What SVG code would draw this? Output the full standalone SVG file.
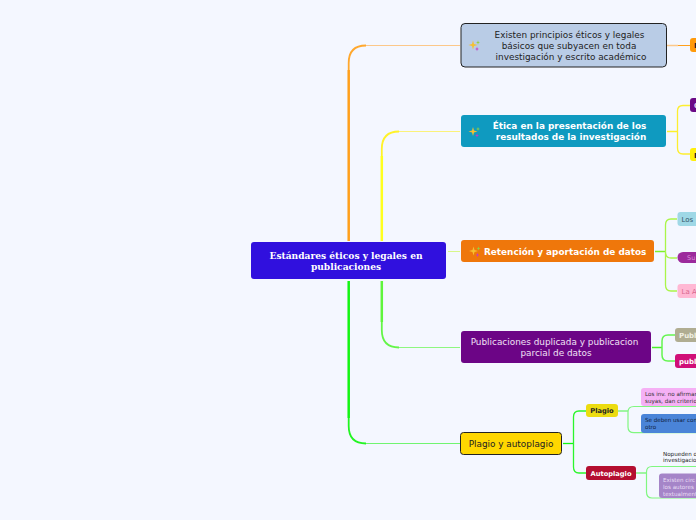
<svg xmlns="http://www.w3.org/2000/svg" width="696" height="520" viewBox="0 0 696 520">
<style>
.t{font-family:"DejaVu Sans",Verdana,sans-serif;font-size:8.9px;text-anchor:middle}
.b{font-weight:bold}
.l{text-anchor:start}
.r{font-family:"DejaVu Serif",Georgia,serif;font-weight:bold;font-size:9.1px;text-anchor:middle;fill:#fff}
.c{fill:none;stroke-linecap:butt}
.s0{font-size:6.7px}
.s1{font-size:7px}
.s2{font-size:6.5px}
.s3{font-size:5.6px}
</style>
<defs>
<g id="spark">
<path d="M0-4.500 1-1 4.500 0 1 1 0 4.500-1 1-4.500 0-1-1Z" fill="#f5c030"/>
<path d="M5-4.700 5.500-3 7-2.500 5.500-2 5-.3 4.500-2 3-2.500 4.500-3Z" fill="#90d040"/>
<path d="M4 1.800 4.500 3.500 6 4 4.500 4.500 4 6.200 3.500 4.500 2 4 3.500 3.500Z" fill="#c838c8"/>
</g>
</defs>
<rect width="696" height="520" fill="#f4f7ff"/>
<g id="connectors">
<path class="c" d="M348.700 241V70" stroke="#ffa01c" stroke-width="2.500"/>
<path class="c" d="M348.700 70V63Q348.700 45.500 366 45.500" stroke="#ffa82e" stroke-width="1.800"/>
<path class="c" d="M366 45.500H460" stroke="#fcc88a"/>
<path class="c" d="M381.800 241V156" stroke="#ffff1e" stroke-width="2.500"/>
<path class="c" d="M381.800 156V149Q381.800 131.500 399 131.500" stroke="#fff22a" stroke-width="1.800"/>
<path class="c" d="M399 131.500H460" stroke="#fbf27a"/>
<path class="c" d="M448 251.500H460" stroke="#d8f78a"/>
<path class="c" d="M381.800 281V322" stroke="#5ff53c" stroke-width="2.500"/>
<path class="c" d="M381.800 322V330Q381.800 347.500 399 347.500" stroke="#64f548" stroke-width="1.800"/>
<path class="c" d="M399 347.500H460" stroke="#8ef780"/>
<path class="c" d="M348.700 281V418" stroke="#14f514" stroke-width="2.500"/>
<path class="c" d="M348.700 418V426Q348.700 443.500 366 443.500" stroke="#22f522" stroke-width="1.800"/>
<path class="c" d="M366 443.500H460" stroke="#70f570"/>
<path class="c" d="M667 45.500H678" stroke="#fcc88a" stroke-width="1.500"/>
<path class="c" d="M678 45.500H690" stroke="#ffa01c"/>
<path class="c" d="M667 131.500H677.500" stroke="#fdf02a" stroke-width="1.500"/>
<path class="c" d="M690 105.500H683Q677.500 105.500 677.500 111V148Q677.500 154 683 154H690" stroke="#fdee30" stroke-width="1.300"/>
<path class="c" d="M655 251.500H665.500" stroke="#7ef02a" stroke-width="1.500"/>
<path class="c" d="M677 219H671Q665.500 219 665.500 225V285Q665.500 291 671 291H677M665.500 252Q665.500 258 671 258H677" stroke="#aaf54a" stroke-width="1.300"/>
<path class="c" d="M652 347.500H662" stroke="#4cf02a" stroke-width="1.500"/>
<path class="c" d="M675 335H668Q662 335 662 341V355Q662 361 668 361H675" stroke="#64f550" stroke-width="1.500"/>
<path class="c" d="M563 443.500H573.500" stroke="#14f514" stroke-width="1.300"/>
<path class="c" d="M586 411H579Q573.500 411 573.500 417V467Q573.500 473 579 473H586" stroke="#2cf52c" stroke-width="1.300"/>
<path class="c" d="M618 411H628" stroke="#70f570" stroke-width="1.300"/>
<path class="c" d="M696 406.500H634Q628 406.500 628 412V427Q628 432.700 634 432.700H696" stroke="#80f780" stroke-width="1.200"/>
<path class="c" d="M636 473H646.500" stroke="#70f570" stroke-width="1.300"/>
<path class="c" d="M696 466.500H652Q646.500 466.500 646.500 472V492Q646.500 498 652 498H696" stroke="#80f780" stroke-width="1.200"/>
</g>
<g id="root">
<rect x="251" y="242" width="195" height="37" rx="3" fill="#3010de"/>
<text class="r" x="346" y="259">Estándares éticos y legales en</text>
<text class="r" x="346" y="270">publicaciones</text>
</g>
<g id="n1">
<rect x="461" y="23.500" width="205.500" height="43.500" rx="4" fill="#b9cce6" stroke="#222" stroke-width="1"/>
<use href="#spark" x="473" y="45"/>
<text class="t" x="569.500" y="38" fill="#222">Existen principios éticos y legales</text>
<text class="t" x="569" y="49" fill="#222">básicos que subyacen en toda</text>
<text class="t" x="571" y="60" fill="#222">investigación y escrito académico</text>
</g>
<g id="n1a"><rect x="690" y="38" width="10" height="14" rx="3" fill="#ff9a0a"/><text class="t s1 b l" x="694" y="48" fill="#222">E</text></g>
<g id="n2">
<rect x="461" y="115" width="205" height="32" rx="3" fill="#0f9ac0"/>
<use href="#spark" x="473" y="131.500"/>
<text class="t b" x="569.500" y="129" fill="#fff">Ética en la presentación de los</text>
<text class="t b" x="571" y="140" fill="#fff">resultados de la investigación</text>
</g>
<g id="n2a"><rect x="690" y="98" width="10" height="14" rx="3" fill="#6b0a86"/><text class="t s1 b l" x="694" y="108" fill="#e8d8f0">C</text></g>
<g id="n2b"><rect x="690" y="148" width="10" height="13" rx="3" fill="#ffef0a"/><text class="t s1 b l" x="694" y="158" fill="#222">E</text></g>
<g id="n3">
<rect x="461" y="240" width="193" height="22" rx="3" fill="#ef770b"/>
<use href="#spark" x="473.500" y="251"/>
<text class="t b l" x="484" y="255" fill="#fff">Retención y aportación de datos</text>
</g>
<g id="n3a"><rect x="677.500" y="212" width="30" height="14" rx="3" fill="#9fd8e6"/><text class="t s1 l" x="681.500" y="221.500" fill="#33556a">Los</text></g>
<g id="n3b"><rect x="677.500" y="252" width="30" height="11" rx="5.500" fill="#9c2a9c"/><text class="t s2 l" x="687" y="260" fill="#d98ad9">Su</text></g>
<g id="n3c"><rect x="677.500" y="284" width="30" height="14" rx="3" fill="#ffb8d4"/><text class="t s1 l" x="681.500" y="293.500" fill="#d8688f">La A</text></g>
<g id="n4">
<rect x="461" y="331" width="190" height="32" rx="3" fill="#6c0586"/>
<text class="t" x="554.500" y="345" fill="#f0e0f5">Publicaciones duplicada y publicacion</text>
<text class="t" x="556" y="356" fill="#f0e0f5">parcial de datos</text>
</g>
<g id="n4a"><rect x="675" y="328" width="30" height="14" rx="3" fill="#b0ad92"/><text class="t s1 b l" x="679" y="337.500" fill="#f0f0e4">Publ</text></g>
<g id="n4b"><rect x="675" y="354" width="30" height="14" rx="3" fill="#d00f78"/><text class="t s1 b l" x="679" y="363.500" fill="#fff">publ</text></g>
<g id="n5">
<rect x="460.500" y="432.500" width="101" height="22" rx="3" fill="#ffd700" stroke="#222" stroke-width="1"/>
<text class="t" x="511" y="447" fill="#222">Plagio y autoplagio</text>
</g>
<g id="n5a"><rect x="586" y="404" width="32" height="13" rx="3" fill="#ecdc10"/><text class="t s0 b" x="602" y="413" fill="#222">Plagio</text></g>
<g id="n5b"><rect x="586" y="466" width="50" height="14" rx="3" fill="#b40e30"/><text class="t s0 b" x="611" y="475.500" fill="#fff">Autoplagio</text></g>
<g id="n5a1"><rect x="641" y="388" width="60" height="18" rx="3" fill="#f5b0f5"/><text class="t s3 l" x="645" y="396" fill="#333">Los inv. no afirman</text><text class="t s3 l" x="645" y="403" fill="#333">suyas, dan criterio</text></g>
<g id="n5a2"><rect x="641" y="414" width="60" height="19" rx="3" fill="#4a84d8"/><text class="t s3 l" x="645" y="422" fill="#10203a">Se deben usar com</text><text class="t s3 l" x="645" y="429" fill="#10203a">otro</text></g>
<g id="n5b1"><text class="t s3 l" x="663" y="456" fill="#222">Nopueden o</text><text class="t s3 l" x="663" y="462" fill="#222">investigacio</text></g>
<g id="n5b2"><rect x="659" y="473.500" width="42" height="24.500" rx="3" fill="#a585c8"/><text class="t s3 l" x="663" y="482" fill="#eadff5">Existen circ</text><text class="t s3 l" x="663" y="489" fill="#eadff5">los autores</text><text class="t s3 l" x="663" y="496" fill="#eadff5">textualment</text></g>
</svg>
